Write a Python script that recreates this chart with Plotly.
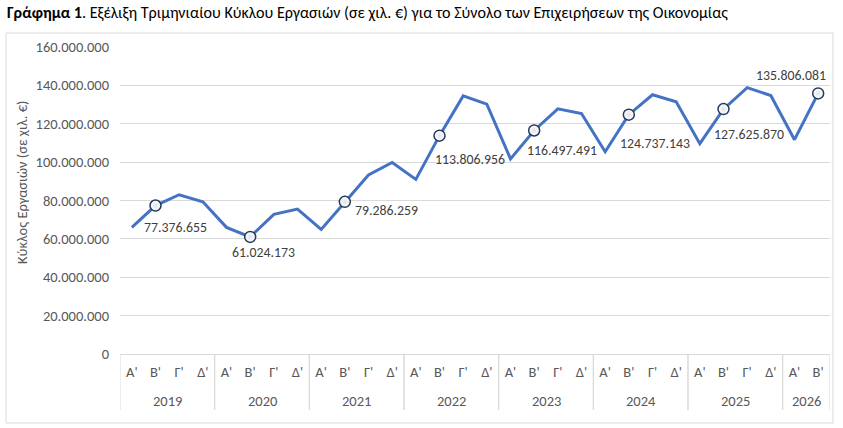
import plotly.graph_objects as go

# ---- data (thousand €) ----
years = ["2019", "2020", "2021", "2022", "2023", "2024", "2025", "2026"]
quarters = ["Α'", "Β'", "Γ'", "Δ'"]
turnover = [
    66000000, 77376655, 83000000, 79300000,     # 2019
    66000000, 61024173, 72800000, 75500000,     # 2020
    64900000, 79286259, 93300000, 99800000,     # 2021
    91000000, 113806956, 134500000, 130200000,  # 2022
    101700000, 116497491, 127800000, 125300000, # 2023
    105400000, 124737143, 135100000, 131400000, # 2024
    109600000, 127625870, 138800000, 134700000, # 2025
    111700000, 135806081,                       # 2026
]
highlight_quarter = "Β'"
y_ticks = [0, 20000000, 40000000, 60000000, 80000000, 100000000, 120000000, 140000000, 160000000]

title_bold = "Γράφημα 1"
title_rest = ". Εξέλιξη Τριμηνιαίου Κύκλου Εργασιών (σε χιλ. €) για το Σύνολο των Επιχειρήσεων της Οικονομίας"
y_title = "Κύκλος Εργασιών (σε χιλ. €)"

# ---- derived ----
periods = [(yr, q) for yr in years for q in quarters][:len(turnover)]
idx = list(range(len(periods)))
x_quarters = [p[1] for p in periods]
hi_idx = [i for i, p in enumerate(periods) if p[1] == highlight_quarter]

# year groups: (label, first index, last index)
groups = []
for i, (yr, q) in enumerate(periods):
    if groups and groups[-1][0] == yr:
        groups[-1][2] = i
    else:
        groups.append([yr, i, i])

# label pixel offsets (dx right, dy down) for each highlighted point — styling only
label_offsets = [(20, 22), (13, 16), (42, 9), (30, 24), (28, 20), (26, 29), (25, 25), (-27, -18)]

FONT = "Carlito, 'Open Sans', sans-serif"
BLUE = "#4472C4"
GRID = "#d9d9d9"
TXT = "#595959"

W, H = 843, 428
L, R, T, B = 120, 13, 47, 74
pw, ph = W - L - R, H - T - B

def px(x):
    return (x - L) / pw

def py(y):
    return (H - B - y) / ph

fig = go.Figure()
fig.add_trace(go.Scatter(
    x=idx, y=turnover, mode="lines",
    line=dict(color=BLUE, width=3), hoverinfo="skip", showlegend=False,
))
fig.add_trace(go.Scatter(
    x=hi_idx, y=[turnover[i] for i in hi_idx], mode="markers",
    marker=dict(size=11, color="white",
                gradient=dict(type="radial", color="#dfe3ea"),
                line=dict(color="#26385a", width=1.5)),
    showlegend=False,
))

annotations = []
for (i, (dx, dy)) in zip(hi_idx, label_offsets):
    annotations.append(dict(
        x=i, y=turnover[i], xref="x", yref="y",
        text=f"{turnover[i]:,}".replace(",", "."), showarrow=False,
        xshift=dx, yshift=-dy,
        font=dict(family=FONT, size=13.8, color="#404040"),
    ))

shapes = [dict(type="rect", xref="paper", yref="paper",
               x0=px(6), x1=px(833), y0=py(423), y1=py(33),
               line=dict(color=GRID, width=1), layer="below")]

for yr, a, b in groups:
    annotations.append(dict(
        x=(a + b) / 2, y=py(401), xref="x", yref="paper",
        xanchor="center", yanchor="middle", text=yr, showarrow=False,
        font=dict(family=FONT, size=14.5, color=TXT),
    ))
    for xb in (a - 0.5, b + 0.5):
        shapes.append(dict(type="line", xref="x", yref="paper",
                           x0=xb, x1=xb, y0=py(354), y1=py(410),
                           line=dict(color=GRID, width=1)))

annotations.append(dict(
    x=px(5), y=py(13), xref="paper", yref="paper", xanchor="left", yanchor="middle",
    text=f"<b>{title_bold}</b>{title_rest}", showarrow=False,
    font=dict(family=FONT, size=16.1, color="#000000"),
))
annotations.append(dict(
    x=px(22), y=py(182), xref="paper", yref="paper", xanchor="center", yanchor="middle",
    text=y_title, textangle=-90, showarrow=False,
    font=dict(family=FONT, size=14.5, color=TXT),
))

fig.update_layout(
    width=W, height=H,
    margin=dict(l=L, r=R, t=T, b=B),
    paper_bgcolor="white", plot_bgcolor="white",
    separators=",.",
    annotations=annotations,
    shapes=shapes,
    xaxis=dict(
        range=[-0.5, len(periods) - 0.5], tickvals=idx, ticktext=x_quarters,
        showgrid=False, zeroline=False, showline=True, linecolor=GRID, linewidth=1,
        ticks="", ticklabelstandoff=5,
        tickfont=dict(family=FONT, size=14.5, color=TXT),
    ),
    yaxis=dict(
        range=[0, 160000000], tickvals=y_ticks, tickformat=",d",
        showgrid=True, gridcolor=GRID, gridwidth=1, zeroline=False,
        ticks="", ticklabelstandoff=10,
        tickfont=dict(family=FONT, size=14.5, color=TXT),
    ),
)

fig.write_html("out.html", config={"displayModeBar": False},
               post_script="document.body.style.margin='0';")
